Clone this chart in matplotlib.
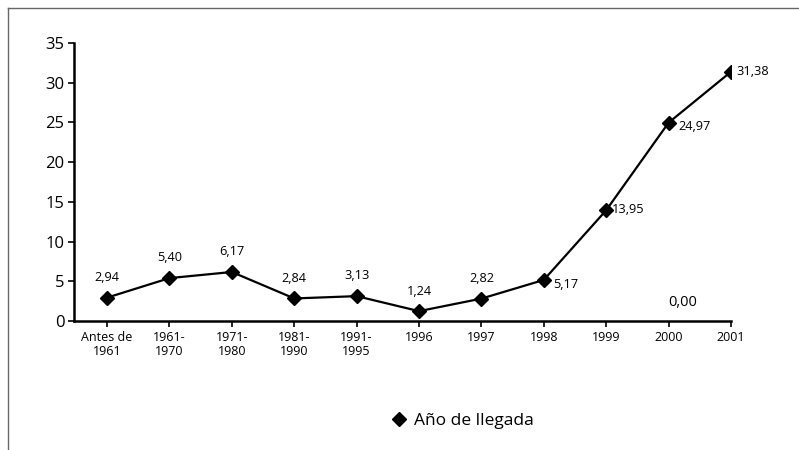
import matplotlib.pyplot as plt
from matplotlib.lines import Line2D

categories = ["Antes de\n1961", "1961-\n1970", "1971-\n1980", "1981-\n1990", "1991-\n1995",
              "1996", "1997", "1998", "1999", "2000", "2001"]
values = [2.94, 5.40, 6.17, 2.84, 3.13, 1.24, 2.82, 5.17, 13.95, 24.97, 31.38]
y_ticks = [0, 5, 10, 15, 20, 25, 30, 35]
series_name = "Año de llegada"

plt.rcParams["font.family"] = ["Open Sans", "DejaVu Sans"]

fig = plt.figure(figsize=(7.99, 4.5), dpi=100)
ax = fig.add_axes([74 / 799, 1 - 321 / 450, (731 - 74) / 799, (321 - 43) / 450])

x = list(range(len(values)))
ax.plot(x, values, color="black", lw=1.6, marker="D", markersize=7.5, label=series_name)

# data labels: above the point for the flat part, to the right for the steep end
for i, v in enumerate(values):
    txt = f"{v:.2f}".replace(".", ",")
    if i < 7:
        ax.annotate(txt, (i, v), xytext=(0, 14.5), textcoords="offset points",
                    ha="center", va="center", fontsize=9.2)
    elif i in (7, 9):
        ax.annotate(txt, (i, v), xytext=(7, -3), textcoords="offset points",
                    ha="left", va="center", fontsize=9.2)
    else:
        ax.annotate(txt, (i, v), xytext=(4, 0.5), textcoords="offset points",
                    ha="left", va="center", fontsize=9.2)

ax.text(9.22, 2.3, "0,00", fontsize=10.5, ha="center", va="center")

ax.set_xlim(-0.53, 10)
ax.set_ylim(0, 35)
ax.set_yticks(y_ticks)
ax.set_yticklabels([str(t) for t in y_ticks], fontsize=12)
ax.set_xticks(x)
ax.set_xticklabels(categories, fontsize=9, linespacing=1.1)
ax.tick_params(axis="y", length=4, width=1.2, pad=3)
ax.tick_params(axis="x", length=4, width=1.2, pad=3)

for side in ("top", "right"):
    ax.spines[side].set_visible(False)
for side in ("left", "bottom"):
    ax.spines[side].set_linewidth(1.8)

fig.legend(handles=[Line2D([], [], color="black", marker="D", lw=0, markersize=7)],
           labels=[series_name], loc="center", bbox_to_anchor=(463 / 799, 1 - 421 / 450),
           frameon=False, fontsize=12.5, handlelength=0.8, handletextpad=0.5)

# outer frame (only top and left visible in the crop)
fig.add_artist(Line2D([8 / 799, 8 / 799], [0, 1 - 8 / 450], transform=fig.transFigure,
                      color="#666666", lw=1))
fig.add_artist(Line2D([8 / 799, 1], [1 - 8 / 450, 1 - 8 / 450], transform=fig.transFigure,
                      color="#666666", lw=1))

fig.savefig("out.png", dpi=100)
